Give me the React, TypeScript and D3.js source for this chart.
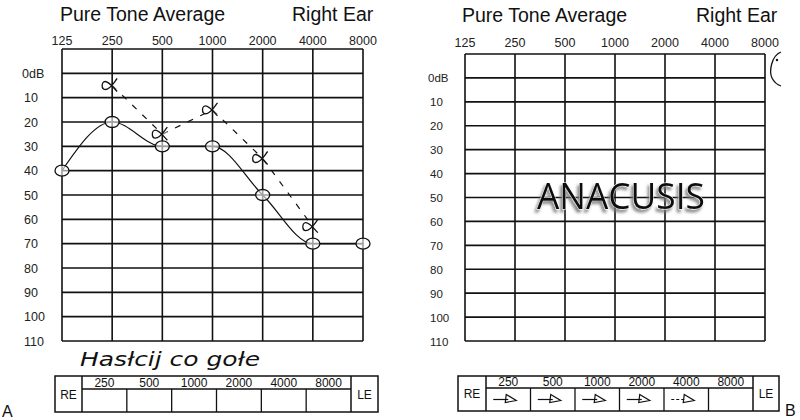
import React from "react";
import * as d3 from "d3";

// ---- data ----
const freqLabels = ["125", "250", "500", "1000", "2000", "4000", "8000"];
const frequencies = [125, 250, 500, 1000, 2000, 4000, 8000];
const dbLevels = [0, 10, 20, 30, 40, 50, 60, 70, 80, 90, 100, 110];
const dbLabels = ["0dB", "10", "20", "30", "40", "50", "60", "70", "80", "90", "100", "110"];
const airFreqs = [125, 250, 500, 1000, 2000, 4000, 8000];
const airThresholdA = [40, 20, 30, 30, 50, 70, 70];
const boneFreqs = [250, 500, 1000, 2000, 4000];
const boneThresholdA = [5, 25, 15, 35, 63];
const tableFreqs = ["250", "500", "1000", "2000", "4000", "8000"];
const arrowCellsB = [true, true, true, true, true, false];

const titleLeft = "Pure Tone Average";
const titleRight = "Right Ear";
const handNote = "Hasłcij  co gołe";
const watermark = "ANACUSIS";

const SANS = "'Liberation Sans', Arial, sans-serif";

type PanelGeom = {
  gx0: number; gx1: number; gy0: number; gy1: number;
  titleX: number; rightTitleX: number; titleY: number;
  freqY: number; dbX: number; dbSize: number;
  tx0: number; tx1: number; ty0: number; tyMid: number; ty1: number; reW: number; leW: number;
};

function Panel({ g, showData, arrows }: { g: PanelGeom; showData: boolean; arrows: boolean }) {
  const x = d3.scaleLog().base(2).domain([125, 8000]).range([g.gx0, g.gx1]);
  const y = d3.scaleLinear().domain([-10, 110]).range([g.gy0, g.gy1]);
  const hLines = [-10, ...dbLevels];

  const airLine = d3
    .line<number>()
    .x((_, i) => x(airFreqs[i]))
    .y((v) => y(v))
    .curve(d3.curveMonotoneX);
  const boneLine = d3
    .line<number>()
    .x((_, i) => x(boneFreqs[i]))
    .y((v) => y(v));

  const cellScale = d3
    .scaleBand<string>()
    .domain(tableFreqs)
    .range([g.tx0 + g.reW, g.tx1 - g.leW]);

  return (
    <g>
      <text x={g.titleX} y={g.titleY} fontFamily={SANS} fontSize={19.5} fill="#111">
        {titleLeft}
      </text>
      <text x={g.rightTitleX} y={g.titleY} fontFamily={SANS} fontSize={19.5} fill="#111">
        {titleRight}
      </text>
      {frequencies.map((f, i) => (
        <text key={f} x={x(f)} y={g.freqY} textAnchor="middle" fontFamily={SANS} fontSize={12.5} fill="#222">
          {freqLabels[i]}
        </text>
      ))}
      {dbLevels.map((d, i) => (
        <text key={d} x={g.dbX - (i === 0 ? 2 : 0)} y={y(d) + 4.5} fontFamily={SANS} fontSize={g.dbSize} fill="#222">
          {dbLabels[i]}
        </text>
      ))}
      {hLines.map((d) => (
        <line key={"h" + d} x1={g.gx0} x2={g.gx1} y1={y(d)} y2={y(d)} stroke="#111" strokeWidth={1.6} />
      ))}
      {frequencies.map((f) => (
        <line key={"v" + f} x1={x(f)} x2={x(f)} y1={g.gy0} y2={g.gy1} stroke="#111" strokeWidth={1.6} />
      ))}

      {showData && (
        <g>
          <path d={airLine(airThresholdA) || ""} fill="none" stroke="#111" strokeWidth={1.2} />
          {airThresholdA.map((v, i) => (
            <ellipse
              key={"a" + i}
              cx={x(airFreqs[i])}
              cy={y(v)}
              rx={7}
              ry={5.5}
              fill="white"
              fillOpacity={0.6}
              stroke="#111"
              strokeWidth={1.3}
            />
          ))}
          <path d={boneLine(boneThresholdA) || ""} fill="none" stroke="#111" strokeWidth={1.2} strokeDasharray="6 8" />
          {boneThresholdA.map((v, i) => {
            const cx = x(boneFreqs[i]) - 2;
            const cy = y(v);
            return (
              <path
                key={"b" + i}
                transform={`translate(${cx},${cy})`}
                d="M 7,-7 C 3,-2 0,4 -5,4 C -9,4 -9,-4 -5,-4 C -1,-4 3,2 7,6"
                fill="white"
                fillOpacity={0.4}
                stroke="#111"
                strokeWidth={1.3}
              />
            );
          })}
        </g>
      )}

      <rect x={g.tx0} y={g.ty0} width={g.tx1 - g.tx0} height={g.ty1 - g.ty0} fill="none" stroke="#111" strokeWidth={1.5} />
      <line x1={g.tx0 + g.reW} x2={g.tx0 + g.reW} y1={g.ty0} y2={g.ty1} stroke="#111" strokeWidth={1.5} />
      <line x1={g.tx1 - g.leW} x2={g.tx1 - g.leW} y1={g.ty0} y2={g.ty1} stroke="#111" strokeWidth={1.5} />
      <line x1={g.tx0 + g.reW} x2={g.tx1 - g.leW} y1={g.tyMid} y2={g.tyMid} stroke="#111" strokeWidth={1.5} />
      <text x={g.tx0 + g.reW / 2} y={(g.ty0 + g.ty1) / 2 + 4.5} textAnchor="middle" fontFamily={SANS} fontSize={12} fill="#111">
        RE
      </text>
      <text x={g.tx1 - g.leW / 2} y={(g.ty0 + g.ty1) / 2 + 4.5} textAnchor="middle" fontFamily={SANS} fontSize={12} fill="#111">
        LE
      </text>
      {tableFreqs.map((f, i) => {
        const cx0 = cellScale(f) as number;
        const bw = cellScale.bandwidth();
        const my = (g.tyMid + g.ty1) / 2;
        return (
          <g key={"t" + f}>
            <text x={cx0 + bw / 2} y={g.tyMid - 2} textAnchor="middle" fontFamily={SANS} fontSize={12} fill="#111">
              {f}
            </text>
            {i > 0 && <line x1={cx0} x2={cx0} y1={g.tyMid} y2={g.ty1} stroke="#111" strokeWidth={1.3} />}
            {arrows && arrowCellsB[i] && (
              <g transform={`translate(${cx0 + bw / 2 - 3},${my})`} fill="none" stroke="#111" strokeWidth={1.2}>
                <path d="M -12,0 L 3,0" strokeDasharray={i === 4 ? "3 2" : undefined} />
                <path d="M 1,-5 L 11,1 L 0,3 Z" />
              </g>
            )}
          </g>
        );
      })}
    </g>
  );
}

const geomA: PanelGeom = {
  gx0: 62, gx1: 363, gy0: 49, gy1: 341,
  titleX: 60, rightTitleX: 292, titleY: 21,
  freqY: 45, dbX: 24, dbSize: 12.5,
  tx0: 55, tx1: 378, ty0: 376, tyMid: 389, ty1: 412, reW: 27, leW: 27,
};
const geomB: PanelGeom = {
  gx0: 465, gx1: 765, gy0: 54, gy1: 341,
  titleX: 462, rightTitleX: 696, titleY: 22,
  freqY: 47, dbX: 430, dbSize: 11.5,
  tx0: 458, tx1: 779, ty0: 376, tyMid: 388, ty1: 411, reW: 28, leW: 26,
};

export default function App() {
  return (
    <svg width={800} height={420} viewBox="0 0 800 420" style={{ position: "absolute", left: 0, top: 0, background: "white" }}>
      <defs>
        <filter id="shadow" x="-10%" y="-30%" width="120%" height="170%">
          <feDropShadow dx={-2} dy={3} stdDeviation={1.8} floodColor="#777" floodOpacity={0.9} />
        </filter>
      </defs>
      <rect x={0} y={0} width={800} height={420} fill="white" />
      <Panel g={geomA} showData={true} arrows={false} />
      <Panel g={geomB} showData={false} arrows={true} />

      <text
        x={80}
        y={366}
        fontFamily="'DejaVu Sans', sans-serif"
        fontStyle="italic"
        fontWeight={200}
        fontSize={20}
        fill="#111"
        textLength={180}
        lengthAdjust="spacingAndGlyphs"
      >
        {handNote}
      </text>

      <text
        x={621}
        y={209}
        textAnchor="middle"
        fontFamily="'Open Sans', Lato, sans-serif"
        fontSize={36}
        fill="#111"
        stroke="white"
        strokeWidth={0.8}
        paintOrder="stroke"
        filter="url(#shadow)"
        textLength={168}
        lengthAdjust="spacingAndGlyphs"
      >
        {watermark}
      </text>

      <path d="M 781,52 C 771,56 769,72 772,78 C 774,82 778,85 781,86" fill="none" stroke="#111" strokeWidth={1.3} />
      <circle cx={777} cy={60} r={1.2} fill="#111" />

      <text x={2} y={417} fontFamily={SANS} fontSize={16} fill="#111">A</text>
      <text x={785} y={416} fontFamily={SANS} fontSize={16} fill="#111">B</text>
    </svg>
  );
}
